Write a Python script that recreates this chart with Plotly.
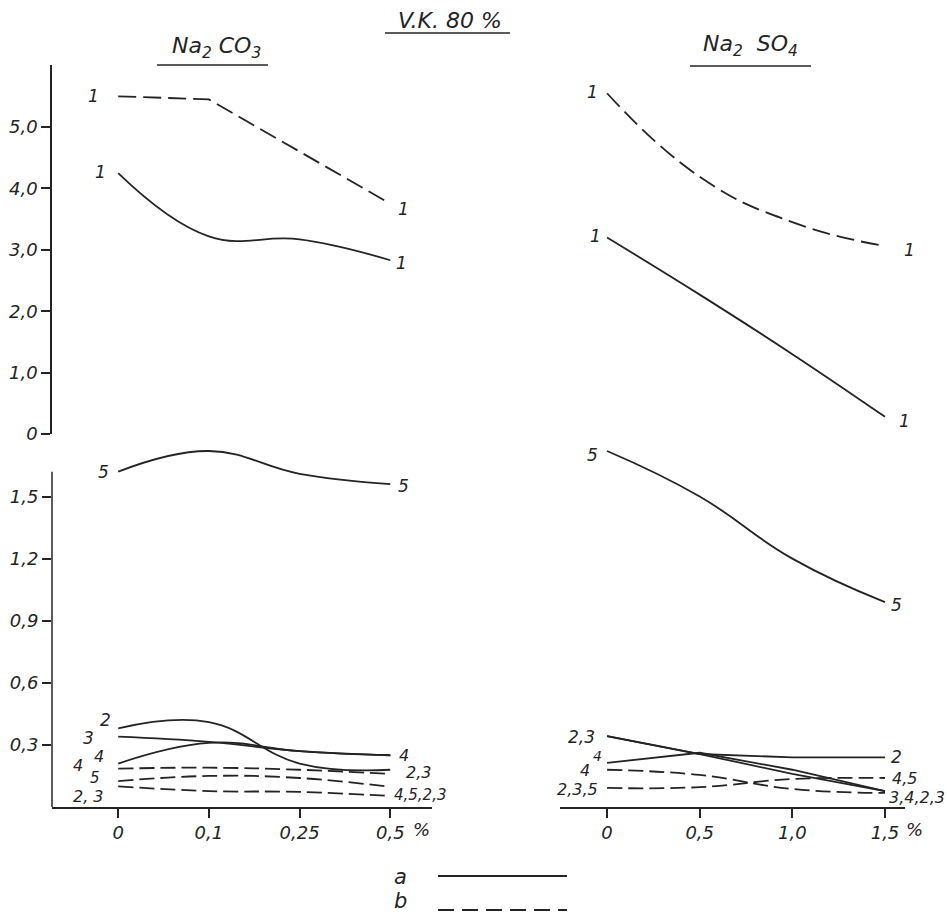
import plotly.graph_objects as go

# Concentrations of added salt (%)
na2co3_conc = ["0", "0,1", "0,25", "0,5"]
na2so4_conc = [0.0, 0.5, 1.0, 1.5]
na2so4_ticks = ["0", "0,5", "1,0", "1,5"]

# Na2CO3 series (a = solid, b = dashed)
co3_1a = [4.25, 3.22, 3.17, 2.83]
co3_1b = [5.50, 5.45, 4.60, 3.75]
co3_5a = [1.62, 1.72, 1.61, 1.56]
co3_2a = [0.38, 0.41, 0.21, 0.18]
co3_3a = [0.34, 0.315, 0.27, 0.25]
co3_4a = [0.21, 0.31, 0.27, 0.25]
co3_4b = [0.185, 0.19, 0.18, 0.16]
co3_5b = [0.125, 0.15, 0.14, 0.097]
co3_23b = [0.10, 0.077, 0.073, 0.053]

# Na2SO4 series
so4_1a = [3.20, 2.27, 1.30, 0.28]
so4_1b = [5.55, 4.19, 3.45, 3.06]
so4_5a = [1.72, 1.50, 1.20, 0.99]
so4_2a = [0.343, 0.256, 0.24, 0.24]
so4_3a = [0.343, 0.256, 0.16, 0.077]
so4_4a = [0.213, 0.262, 0.18, 0.077]
so4_4b = [0.18, 0.155, 0.087, 0.068]
so4_235b = [0.092, 0.096, 0.135, 0.14]

upper_ticks = [0, 1, 2, 3, 4, 5]
upper_ticktext = ["0", "1,0", "2,0", "3,0", "4,0", "5,0"]
lower_ticks = [0.3, 0.6, 0.9, 1.2, 1.5]
lower_ticktext = ["0,3", "0,6", "0,9", "1,2", "1,5"]

INK = "#242424"
FONT = dict(family="DejaVu Sans", size=17, color=INK, style="italic")
W, H = 947, 919
DASH = "18px,7px"
DASH_SHORT = "15px,6px"


def px_x(p):
    return p / W


def px_y(p):
    return 1 - p / H


fig = go.Figure()


def line(x, y, ax, dash=None, shape="spline", width=1.8, smoothing=1.2):
    fig.add_trace(go.Scatter(
        x=x, y=y, mode="lines", xaxis=ax[0], yaxis=ax[1],
        line=dict(color=INK, width=width, dash=dash or "solid",
                  shape=shape, smoothing=smoothing),
        showlegend=False, hoverinfo="skip", cliponaxis=False))


UL = ("x", "y")
LL = ("x2", "y2")
UR = ("x3", "y3")
LR = ("x4", "y4")

# Na2CO3 upper
line(na2co3_conc, co3_1b, UL, dash=DASH, shape="linear")
line(na2co3_conc, co3_1a, UL)
# Na2CO3 lower
line(na2co3_conc, co3_5a, LL)
line(na2co3_conc, co3_2a, LL)
line(na2co3_conc, co3_3a, LL)
line(na2co3_conc, co3_4a, LL)
line(na2co3_conc, co3_4b, LL, dash=DASH_SHORT)
line(na2co3_conc, co3_5b, LL, dash=DASH_SHORT)
line(na2co3_conc, co3_23b, LL, dash=DASH_SHORT)
# Na2SO4 upper
line(na2so4_conc, so4_1b, UR, dash=DASH, smoothing=1.3)
line(na2so4_conc, so4_1a, UR)
# Na2SO4 lower
line(na2so4_conc, so4_5a, LR, smoothing=1.3)
line(na2so4_conc, so4_2a, LR, shape="linear")
line(na2so4_conc, so4_3a, LR, shape="linear")
line(na2so4_conc, so4_4a, LR, shape="linear")
line(na2so4_conc, so4_4b, LR, dash=DASH_SHORT)
line(na2so4_conc, so4_235b, LR, dash=DASH_SHORT)

annotations = []


def label(text, ax, x, y, dx=0, dy=0, anchor="center", size=17):
    annotations.append(dict(
        text=text, xref=ax[0], yref=ax[1], x=x, y=y, xshift=dx, yshift=dy,
        xanchor=anchor, yanchor="middle", showarrow=False,
        font=dict(FONT, size=size)))


def paper_text(text, xp, yp, size=17, style="italic"):
    annotations.append(dict(
        text=text, xref="paper", yref="paper", x=px_x(xp), y=px_y(yp),
        xanchor="center", yanchor="middle", showarrow=False,
        font=dict(FONT, size=size, style=style)))


c0, c3 = na2co3_conc[0], na2co3_conc[-1]
s0, s3 = na2so4_conc[0], na2so4_conc[-1]

# curve numbers, Na2CO3
label("1", UL, c0, co3_1b[0], dx=-25)
label("1", UL, c0, co3_1a[0], dx=-18, dy=1)
label("1", UL, c3, co3_1b[-1], dx=13, dy=-5)
label("1", UL, c3, co3_1a[-1], dx=11, dy=-3)
label("5", LL, c0, co3_5a[0], dx=-15)
label("5", LL, c3, co3_5a[-1], dx=13, dy=-2)
label("2", LL, c0, co3_2a[0], dx=-13, dy=8)
label("3", LL, c0, co3_3a[0], dx=-30, dy=-1)
label("4", LL, c0, co3_4a[0], dx=-19, dy=7, size=16)
label("4", LL, c0, co3_4b[0], dx=-40, dy=3, size=16)
label("5", LL, c0, co3_5b[0], dx=-23, dy=3, size=15)
label("2, 3", LL, c0, co3_23b[0], dx=-30, dy=-10, size=16)
label("4", LL, c3, co3_3a[-1], dx=14, dy=0, size=16)
label("2,3", LL, c3, co3_4b[-1], dx=28, dy=1, size=16)
label("4,5,2,3", LL, c3, co3_5b[-1], dx=2, dy=-8, anchor="left", size=15)

# curve numbers, Na2SO4
label("1", UR, s0, so4_1b[0], dx=-15, dy=1)
label("1", UR, s3, so4_1b[-1], dx=25, dy=-4)
label("1", UR, s0, so4_1a[0], dx=-12, dy=2)
label("1", UR, s3, so4_1a[-1], dx=20, dy=-4)
label("5", LR, s0, so4_5a[0], dx=-15, dy=-4)
label("5", LR, s3, so4_5a[-1], dx=12, dy=-3)
label("2,3", LR, s0, so4_2a[0], dx=-10, dy=-1, anchor="right")
label("4", LR, s0, so4_4a[0], dx=-10, dy=7, size=14)
label("4", LR, s0, so4_4b[0], dx=-22, dy=-1, size=16)
label("2,3,5", LR, s0, so4_235b[0], dx=-7, dy=-2, anchor="right", size=16)
label("2", LR, s3, so4_2a[-1], dx=4, anchor="left")
label("4,5", LR, s3, so4_235b[-1], dx=5, anchor="left", size=16)
label("3,4,2,3", LR, s3, so4_4b[-1], dx=2, dy=-5, anchor="left", size=16)

# axis unit marks
paper_text("%", 421, 829, size=18)
paper_text("%", 914, 829, size=18)

# headings
paper_text("V.K. 80 %", 450, 20, size=22)
paper_text("Na<sub>2</sub> CO<sub>3</sub>", 216, 47, size=22)
paper_text("Na<sub>2</sub>  SO<sub>4</sub>", 750, 46, size=22)

# legend text
paper_text("a", 400, 877, size=21)
paper_text("b", 400, 901, size=21)

shapes = []


def hline(x0, x1, yp, dash="solid", width=1.6):
    shapes.append(dict(type="line", xref="paper", yref="paper",
                       x0=px_x(x0), x1=px_x(x1), y0=px_y(yp), y1=px_y(yp),
                       line=dict(color=INK, width=width, dash=dash)))


# heading underlines
hline(385, 510, 33)
hline(157, 268, 65)
hline(690, 811, 66)
# legend samples
hline(438, 567, 876, width=1.8)
hline(438, 567, 910, dash="16px,8px", width=1.8)

# lower-left vertical axis only up to the top tick region
shapes.append(dict(type="line", xref="x2 domain", yref="y2", x0=0, x1=0, y0=0, y1=1.62,
                   line=dict(color=INK, width=1.5)))

# layout domains (pixel based)
L_DOM = [px_x(52), px_x(432)]
R_DOM = [px_x(560), px_x(905)]
U_DOM = [px_y(434), px_y(65)]
D_DOM = [px_y(807), px_y(445)]

hidden = dict(visible=False, showgrid=False, zeroline=False, automargin=False)
tickfont = dict(FONT, size=18)
shown = dict(showgrid=False, zeroline=False, automargin=False, ticks="outside",
             ticklen=9, tickwidth=1.5, tickcolor=INK, tickfont=tickfont)

fig.update_layout(
    width=W, height=H,
    margin=dict(l=0, r=0, t=0, b=0, pad=0, autoexpand=False),
    paper_bgcolor="white", plot_bgcolor="rgba(0,0,0,0)",
    showlegend=False,
    xaxis=dict(hidden, domain=L_DOM, type="category", categoryarray=na2co3_conc,
               range=[-0.73, 3.46], anchor="y"),
    yaxis=dict(shown, domain=U_DOM, range=[0, 6.01], anchor="x",
               showline=True, linecolor=INK, linewidth=1.5,
               tickvals=upper_ticks, ticktext=upper_ticktext),
    xaxis2=dict(shown, domain=L_DOM, type="category", categoryarray=na2co3_conc,
                range=[-0.73, 3.46], anchor="y2",
                showline=True, linecolor=INK, linewidth=1.5),
    yaxis2=dict(shown, domain=D_DOM, range=[0, 1.749], anchor="x2", showline=False,
                tickvals=lower_ticks, ticktext=lower_ticktext),
    xaxis3=dict(hidden, domain=R_DOM, range=[-0.254, 1.608], anchor="y3"),
    yaxis3=dict(hidden, domain=U_DOM, range=[0, 6.01], anchor="x3"),
    xaxis4=dict(shown, domain=R_DOM, range=[-0.254, 1.608], anchor="y4",
                showline=True, linecolor=INK, linewidth=1.5,
                tickvals=na2so4_conc, ticktext=na2so4_ticks),
    yaxis4=dict(hidden, domain=D_DOM, range=[0, 1.749], anchor="x4"),
    annotations=annotations,
    shapes=shapes,
)

fig.write_html("out.html")
